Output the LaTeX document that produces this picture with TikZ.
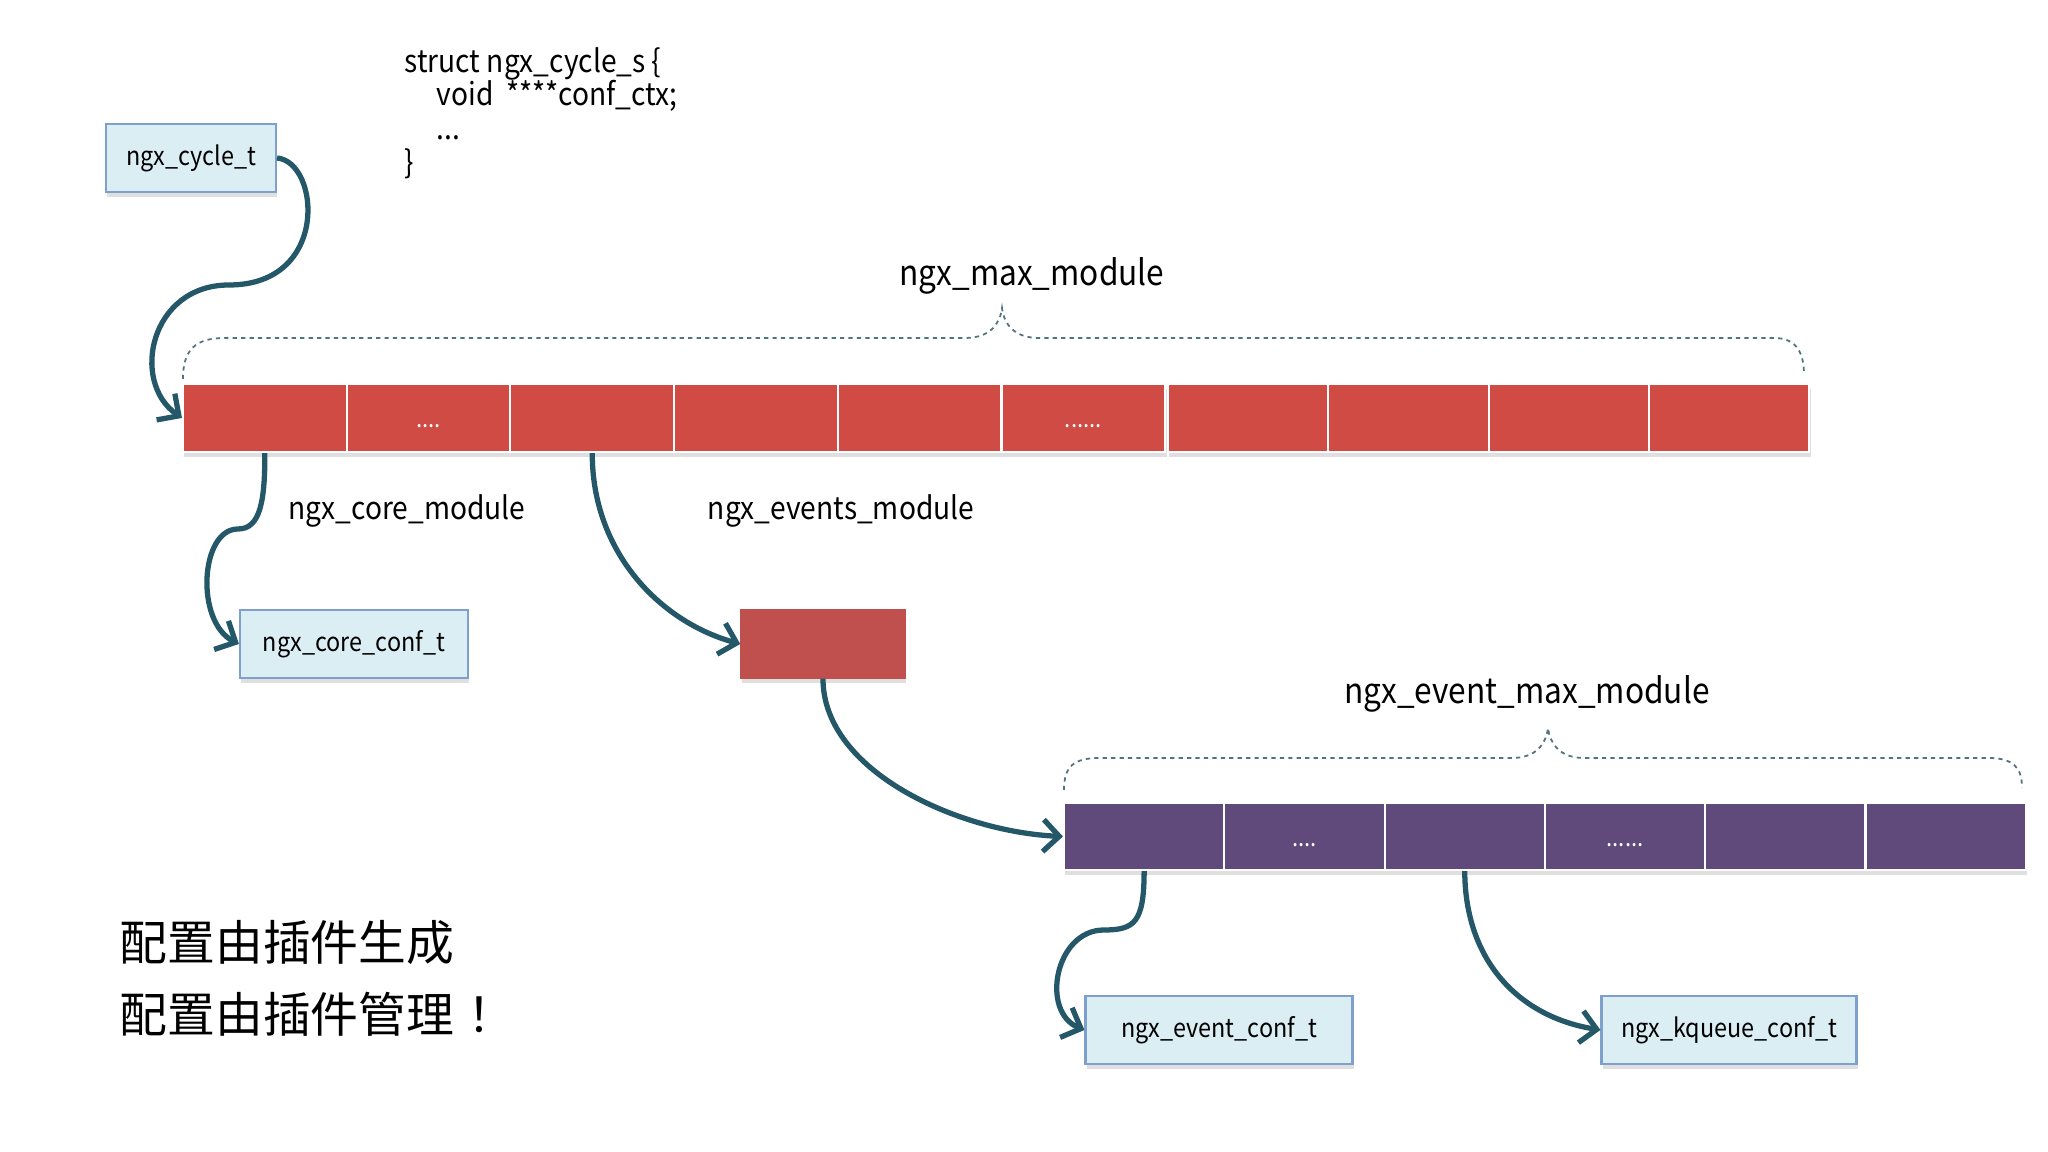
\documentclass[tikz,border=0pt]{standalone}
\usepackage{fontspec}
\setmainfont{Noto Sans CJK SC}[FakeStretch=0.9]
\newfontfamily\cjkfont{Noto Sans CJK SC}
\usetikzlibrary{arrows.meta,shadows}

\definecolor{linkteal}{RGB}{36,88,105}
\definecolor{bracegray}{RGB}{80,115,125}
\definecolor{boxfill}{RGB}{219,238,244}
\definecolor{boxline}{RGB}{125,160,205}
\definecolor{cellred}{RGB}{209,75,69}
\definecolor{boxred}{RGB}{192,80,77}
\definecolor{cellpurple}{RGB}{96,74,123}

\begin{document}
\begin{tikzpicture}[every node/.style={font=\fontsize{8.9}{10.7}\selectfont},
	softshadow/.style={drop shadow={shadow xshift=0.4pt,shadow yshift=-1.5pt,opacity=0.25}},
	cfgbox/.style={draw=boxline,fill=boxfill,line width=0.6pt,minimum height=0.68cm,inner sep=0pt,font=\fontsize{7.4}{9}\selectfont,softshadow},
	redcell/.style={draw=white,fill=cellred,line width=0.6pt,minimum width=1.637cm,minimum height=0.68cm,inner sep=0pt,softshadow},
	purcell/.style={draw=white,fill=cellpurple,line width=0.6pt,minimum width=1.603cm,minimum height=0.67cm,inner sep=0pt,softshadow},
	celldots/.style={anchor=base,text=white,font=\fontsize{7}{8}\selectfont},
	biglbl/.style={font=\fontsize{10}{12}\selectfont},
	codeline/.style={anchor=base west,inner sep=0pt},
	bracel/.style={draw=bracegray,line width=0.5pt,dash pattern=on 1.2pt off 1.2pt},
	link/.style={draw=linkteal,line width=1.5pt,-{Straight Barb[length=1.6mm,width=3.2mm]}}]
	\path[fill=white] (0,0) rectangle (20.48,11.52);
	\useasboundingbox (0,0) rectangle (20.48,11.52);

	% struct and cycle
	\node[cfgbox,minimum width=1.70cm] (cycle) at (1.91,9.94) {ngx\_cycle\_t};
	\node[codeline] (code1) at (4.04,10.79) {struct ngx\_cycle\_s \{};
	\node[codeline] (code2) at (4.36,10.46) {void \ ****conf\_ctx;};
	\node[codeline] (code3) at (4.36,10.12) {...};
	\node[codeline] (code4) at (4.04,9.78) {\}};

	% ngx_max_module array
	\foreach \i in {1,...,6}
		\node[redcell] (r\i) at ({1.83+(\i-0.5)*1.637},7.34) {};
	\foreach \i in {7,...,10}
		\node[redcell,minimum width=1.603cm] (r\i) at ({11.68+(\i-6.5)*1.603},7.34) {};
	\node[celldots] (r2dots) at ([yshift=-0.1cm]r2.center) {....};
	\node[celldots] (r6dots) at ([yshift=-0.1cm]r6.center) {......};
	\draw[bracel] (1.83,7.73) .. controls (1.83,8.02) and (1.95,8.14) .. (2.25,8.14) -- (9.65,8.14)
		.. controls (9.9,8.14) and (10.0,8.28) .. (10.02,8.44)
		.. controls (10.04,8.28) and (10.14,8.14) .. (10.39,8.14) -- (17.74,8.14)
		.. controls (17.96,8.14) and (18.04,8.0) .. (18.04,7.77);
	\node[biglbl] (maxlbl) at (10.32,8.76) {ngx\_max\_module};

	\node (corelbl) at (4.07,6.41) {ngx\_core\_module};
	\node (eventslbl) at (8.41,6.41) {ngx\_events\_module};

	% second level
	\node[cfgbox,minimum width=2.28cm] (coreconf) at (3.54,5.08) {ngx\_core\_conf\_t};
	\node[draw=boxred,fill=boxred,minimum width=1.64cm,minimum height=0.68cm,inner sep=0pt,softshadow] (evctx) at (8.23,5.08) {};

	% ngx_event_max_module array
	\foreach \i in {1,...,6}
		\node[purcell] (p\i) at ({10.64+(\i-0.5)*1.603},3.155) {};
	\node[celldots] (p2dots) at ([yshift=-0.1cm]p2.center) {....};
	\node[celldots] (p4dots) at ([yshift=-0.1cm]p4.center) {......};
	\draw[bracel] (10.64,3.62) .. controls (10.64,3.86) and (10.74,3.94) .. (11.0,3.94) -- (15.12,3.94)
		.. controls (15.36,3.94) and (15.46,4.08) .. (15.48,4.24)
		.. controls (15.50,4.08) and (15.6,3.94) .. (15.84,3.94) -- (19.88,3.94)
		.. controls (20.14,3.94) and (20.22,3.84) .. (20.22,3.64);
	\node[biglbl] (evmaxlbl) at (15.27,4.58) {ngx\_event\_max\_module};

	\node[cfgbox,minimum width=2.67cm] (eventconf) at (12.19,1.22) {ngx\_event\_conf\_t};
	\node[cfgbox,minimum width=2.55cm] (kqueueconf) at (17.29,1.22) {ngx\_kqueue\_conf\_t};

	% links
	\draw[link] (cycle.east) .. controls (3.2,9.9) and (3.3,8.67) .. (2.29,8.67)
		.. controls (1.5,8.67) and (1.3,7.7) .. (r1.west);
	\draw[link] (r1.south) .. controls (2.65,6.5) and (2.6,6.23) .. (2.38,6.23)
		.. controls (2.0,6.23) and (1.95,5.3) .. (coreconf.west);
	\draw[link] (r3.south) .. controls (5.92,6.0) and (6.6,5.3) .. (evctx.west);
	\draw[link] (evctx.south) .. controls (8.23,3.8) and (9.6,3.2) .. (p1.west);
	\draw[link] (p1.south) .. controls (11.44,2.3) and (11.35,2.22) .. (11.04,2.22)
		.. controls (10.55,2.22) and (10.4,1.4) .. (eventconf.west);
	\draw[link] (p3.south) .. controls (14.65,1.9) and (15.2,1.35) .. (kqueueconf.west);

	% note
	\node[codeline,font=\cjkfont\fontsize{13.6}{16}\selectfont] (note1) at (1.19,1.91) {配置由插件生成};
	\node[codeline,font=\cjkfont\fontsize{13.6}{16}\selectfont] (note2) at (1.19,1.19) {配置由插件管理\kern0.27em！};
\end{tikzpicture}
\end{document}
